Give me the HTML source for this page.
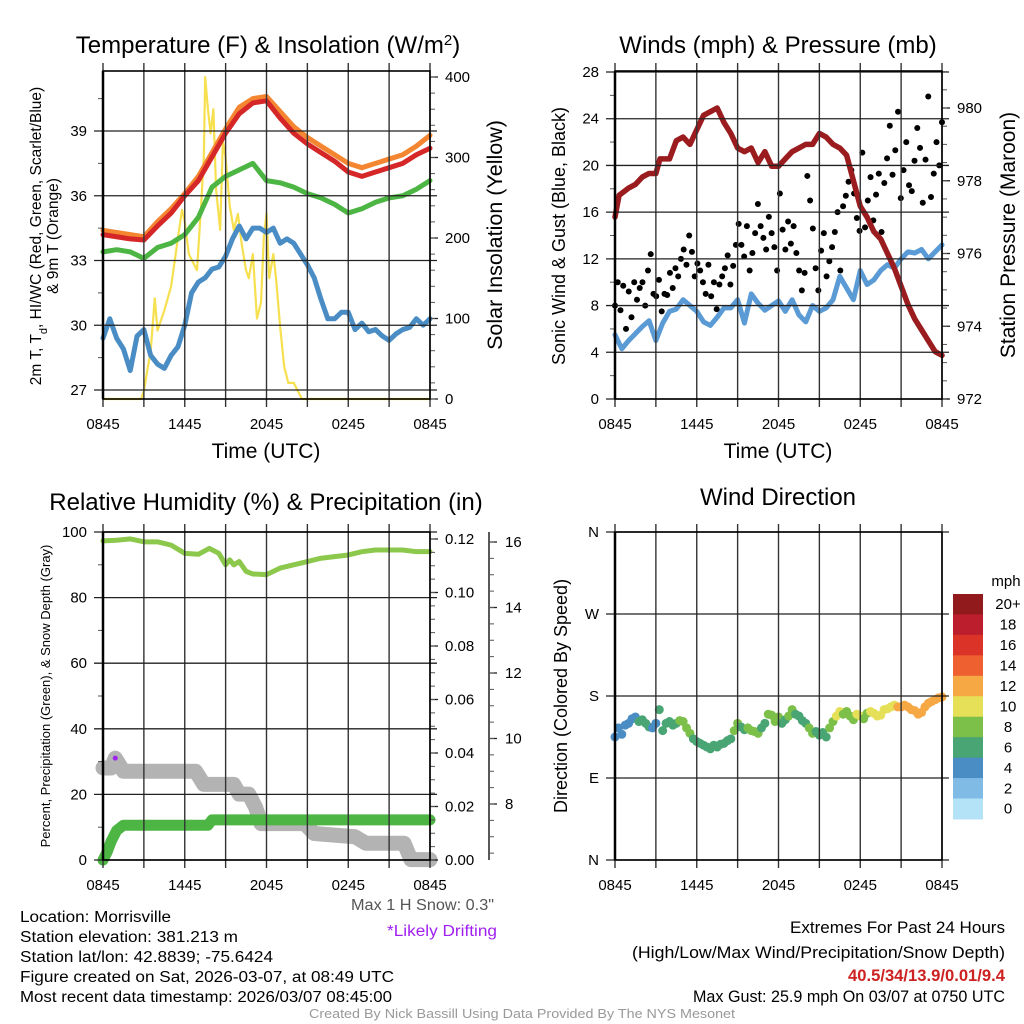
<!DOCTYPE html>
<html><head><meta charset="utf-8"><style>
body{margin:0;background:#fff}
svg{display:block;font-family:"Liberation Sans",sans-serif}
</style></head><body>
<svg id="s" width="1024" height="1024" viewBox="0 0 1024 1024" xmlns="http://www.w3.org/2000/svg">
<rect width="1024" height="1024" fill="#fff"/>
<text x="268" y="53" font-size="24" text-anchor="middle">Temperature (F) &amp; Insolation (W/m<tspan baseline-shift="super" font-size="15">2</tspan>)</text>
<text x="778" y="53" font-size="24" text-anchor="middle">Winds (mph) &amp; Pressure (mb)</text>
<text x="266" y="510" font-size="24" text-anchor="middle">Relative Humidity (%) &amp; Precipitation (in)</text>
<text x="778" y="505" font-size="24" text-anchor="middle">Wind Direction</text>
<text x="266" y="458" font-size="21" text-anchor="middle">Time (UTC)</text>
<text x="778" y="458" font-size="21" text-anchor="middle">Time (UTC)</text>
<text transform="translate(41,236) rotate(-90)" font-size="15.5" text-anchor="middle">2m T, T<tspan baseline-shift="sub" font-size="11">d</tspan>, HI/WC (Red, Green, Scarlet/Blue)</text>
<text transform="translate(58,236) rotate(-90)" font-size="15.5" text-anchor="middle">&amp; 9m T (Orange)</text>
<text transform="translate(502,235) rotate(-90)" font-size="21.5" text-anchor="middle">Solar Insolation (Yellow)</text>
<text transform="translate(565,236) rotate(-90)" font-size="18" text-anchor="middle">Sonic Wind &amp; Gust (Blue, Black)</text>
<text transform="translate(1015,235) rotate(-90)" font-size="21" text-anchor="middle">Station Pressure (Maroon)</text>
<text transform="translate(50,696) rotate(-90)" font-size="13" text-anchor="middle">Percent, Precipitation (Green), &amp; Snow Depth (Gray)</text>
<text transform="translate(567,696) rotate(-90)" font-size="18" text-anchor="middle">Direction (Colored By Speed)</text>
<g font-size="15.5">
<text x="20" y="922" textLength="151" lengthAdjust="spacingAndGlyphs">Location: Morrisville</text>
<text x="20" y="942" textLength="218" lengthAdjust="spacingAndGlyphs">Station elevation: 381.213 m</text>
<text x="20" y="962" textLength="253" lengthAdjust="spacingAndGlyphs">Station lat/lon: 42.8839; -75.6424</text>
<text x="20" y="982" textLength="374" lengthAdjust="spacingAndGlyphs">Figure created on Sat, 2026-03-07, at 08:49 UTC</text>
<text x="20" y="1002" textLength="372" lengthAdjust="spacingAndGlyphs">Most recent data timestamp: 2026/03/07 08:45:00</text>
</g>
<text x="351" y="910" font-size="15.5" fill="#555" textLength="143" lengthAdjust="spacingAndGlyphs">Max 1 H Snow: 0.3"</text>
<text x="387" y="936" font-size="15.5" fill="#a020f0" textLength="110" lengthAdjust="spacingAndGlyphs">*Likely Drifting</text>
<g font-size="16.5">
<text x="790" y="933" textLength="215" lengthAdjust="spacingAndGlyphs">Extremes For Past 24 Hours</text>
<text x="632" y="958" textLength="373" lengthAdjust="spacingAndGlyphs">(High/Low/Max Wind/Precipitation/Snow Depth)</text>
<text x="848" y="981" fill="#cc2222" font-weight="bold" textLength="157" lengthAdjust="spacingAndGlyphs">40.5/34/13.9/0.01/9.4</text>
<text x="693" y="1002" textLength="312" lengthAdjust="spacingAndGlyphs">Max Gust: 25.9 mph On 03/07 at 0750 UTC</text>
</g>
<text x="309" y="1018" font-size="13" fill="#999" textLength="426" lengthAdjust="spacingAndGlyphs">Created By Nick Bassill Using Data Provided By The NYS Mesonet</text>
</svg>
<script>
// ---- data (hours since 0845 UTC) ----
const timeLabels=["0845","1445","2045","0245","0845"];
const tempT=[0,1,2,3,4,5,6,7,8,9,10,11,12,13,14,15,16,17,18,19,20,21,22,23,24];
const redTemp=[34.2,34.1,34.0,33.95,34.6,35.2,36.0,36.7,37.8,38.9,39.8,40.3,40.4,39.6,38.9,38.4,38.0,37.6,37.1,36.9,37.1,37.3,37.5,37.9,38.2];
const orangeTemp=[34.4,34.3,34.2,34.1,34.8,35.4,36.1,36.9,38.0,39.1,40.1,40.5,40.6,39.9,39.2,38.7,38.3,37.9,37.5,37.3,37.5,37.7,37.9,38.3,38.8];
const greenTemp=[33.4,33.5,33.4,33.1,33.6,33.8,34.2,35.0,36.4,36.9,37.2,37.5,36.7,36.6,36.4,36.1,35.9,35.6,35.2,35.4,35.7,35.9,36.0,36.3,36.7];
const dewT=[0,0.5,1,1.5,2,2.5,3,3.5,4,4.5,5,5.5,6,6.5,7,7.5,8,8.5,9,9.5,10,10.5,11,11.5,12,12.5,13,13.5,14,14.5,15,15.5,16,16.5,17,17.5,18,18.5,19,19.5,20,20.5,21,21.5,22,22.5,23,23.5,24];
const dewPoint=[29.4,30.3,29.4,28.9,27.9,29.5,29.8,28.6,28.2,28.0,28.6,29.0,30.0,31.5,32.0,32.2,32.6,32.7,33.2,34.0,34.6,34.0,34.5,34.5,34.3,34.5,33.8,34.0,33.8,33.3,32.8,32.2,31.2,30.3,30.3,30.6,30.6,29.8,30.1,29.7,29.8,29.5,29.3,29.6,29.8,29.9,30.3,30.0,30.3];
const solarT=[0,2.8,3,3.5,3.8,4,4.5,5,5.5,5.8,6,6.3,6.6,6.9,7.2,7.4,7.5,7.7,7.9,8.1,8.3,8.6,8.8,9,9.3,9.6,9.9,10.2,10.5,10.7,11,11.3,11.6,11.8,12,12.2,12.5,12.7,13,13.3,13.6,14,14.3,14.6,24];
const solar=[0,0,10,60,125,85,110,140,200,235,220,180,170,160,240,300,400,360,330,360,260,210,320,300,240,210,230,190,160,150,180,100,120,200,230,150,180,150,90,40,20,20,10,0,0];
const presT=[0,0.3,1,1.5,2,2.5,3,3.3,4,4.5,5,5.5,6,6.5,7,7.5,8,8.5,9,9.5,10,10.5,11,11.5,12,12.5,13,13.5,14,14.5,15,15.5,16,16.5,17,17.5,18,18.5,19,19.5,20,20.5,21,21.5,22,22.5,23,23.5,24];
const pressure=[977.0,977.6,977.8,977.9,978.1,978.2,978.2,978.6,978.6,979.1,979.2,979.0,979.4,979.8,979.9,980.0,979.6,979.3,978.9,978.8,978.9,978.5,978.8,978.4,978.4,978.6,978.8,978.9,979.0,979.0,979.3,979.2,979.0,978.9,978.7,978.0,977.3,977.0,976.6,976.4,976.0,975.6,975.1,974.6,974.2,973.9,973.6,973.3,973.2];
const windT=[0,0.5,1,1.5,2,2.5,3,3.5,4,4.5,5,5.5,6,6.5,7,7.5,8,8.5,9,9.5,10,10.5,11,11.5,12,12.5,13,13.5,14,14.5,15,15.5,16,16.5,17,17.5,18,18.5,19,19.5,20,20.5,21,21.5,22,22.5,23,23.5,24];
const windSpeed=[5.5,4.3,5.0,5.6,6.2,6.7,5.0,6.5,7.5,7.7,8.5,8.0,7.5,6.6,6.3,7.0,7.8,7.8,8.5,6.5,9.0,8.2,7.6,8.0,8.4,7.5,8.5,7.2,6.6,8.0,7.5,7.8,8.5,10.5,9.5,8.5,11.0,9.8,10.2,11.0,11.5,11.2,12.0,12.6,12.5,12.8,12.0,12.6,13.2];
const gust=[8,10,7.6,9.7,6, 9.2,7,10,8.5,9.5, 10,8,11,12.4,9, 8.8,10.2,7.5,9,8.9, 10.8,9.5,11.2,10.5,12, 12.8,11.5,14,12.6,10.5, 11.6,11,10,9,11.5, 8.8,10,7.7,9.8,10.5, 11.2,12.3,9.8,11.4,13.2, 15,13.2,12.2,14.8,11, 12.5,14.2,16.7,14.8,13.8, 12.8,15.6,14.2,13,11, 17.6,14.5,12.8,15.2,13.3, 14.8,12.5,11,9.3,10.8, 19.1,17,14.6,11.2,9.3, 12.7,14.2,10.5,11.8,13, 14.3,16,11,16.5,17.4, 18.6,19.6,17.6,15.5,14.4, 21.1,14.7,17,19,15.3, 17.5,19.3,14.3,18.5,20.6, 23.4,19.2,21.3,24.6,17.2, 19.6,22,18.3,17.8,20.4, 23.2,21.5,16.8,20.5,25.9, 17.3,19.3,22,20,23.7];
const rhT=[0,1,2,3,4,5,6,7,7.8,8.5,9,9.3,9.6,10,10.5,11,12,13,14,15,16,17,18,19,20,21,22,23,24];
const rh=[97.3,97.5,97.9,97.0,97.0,96.0,93.5,93.2,95.0,93.5,90.0,91.5,90.0,91.0,88.0,87.2,87.0,89.0,90.0,91.0,92.0,92.5,93.0,94.0,94.5,94.5,94.5,94.0,94.0];
const precipT=[0,0.3,0.6,1,1.5,7.7,8,24];
const precip=[0,0.003,0.007,0.011,0.013,0.013,0.015,0.015];
const snowT=[0,0.6,0.9,1.5,6.8,7.4,9.6,10.0,10.7,11.2,11.6,14.8,15.5,18.5,19.3,22.1,22.6,24];
const snowDepth=[9.1,9.1,9.4,9.0,9.0,8.6,8.6,8.3,8.3,7.9,7.4,7.4,7.1,7.0,6.8,6.8,6.3,6.3];
const direction=[135,145,138,148,150,155,157,152,154,150,146,145,150,165,142,150,152,148,150,153,152,145,139,133,130,128,126,124,122,126,124,127,128,131,133,142,150,146,143,145,142,141,139,145,150,160,159,152,157,150,154,158,165,160,158,153,150,145,139,141,137,140,135,145,152,158,163,160,163,158,154,160,158,155,161,163,161,158,159,165,166,168,170,168,168,170,168,165,164,160,162,168,172,174,176,178,179];
const speedBins=["0","2","4","6","8","10","12","14","16","18","20+"];
const binColors=["#b4e2f7","#7fbbe4","#4a8dc5","#4aa574","#7cc04a","#e6df58","#f5a843","#ee6030","#dc3329","#bd1e2d","#911a1d"];

// ---- helpers ----
const NS="http://www.w3.org/2000/svg",S=document.getElementById('s');
function mk(tag,at,parent){const e=document.createElementNS(NS,tag);for(const k in at)e.setAttribute(k,at[k]);(parent||S).appendChild(e);return e;}
function lin(d0,d1,r0,r1){return v=>r0+(v-d0)/(d1-d0)*(r1-r0);}
function panel(name,x0,x1,y0,y1){
  const g=mk('g',{});
  
  
  const xs=lin(0,24,x0,x1);
  for(let h=0;h<=24;h+=3){
    const l=mk('line',{x1:xs(h),x2:xs(h),y1:y0-8,y2:y1+8,stroke:'#333','stroke-width':1.4},g);
    
    
  }
  timeLabels.forEach((lab,i)=>{
    const t=mk('text',{x:xs(i*6),y:y1+30,'font-size':15,'text-anchor':'middle'},g);t.textContent=lab;
    
    
  });
  return {g,xs};
}
function hgrid(g,x0,x1,ys,vals,labels,minor){
  vals.forEach((v,i)=>{
    const l=mk('line',{x1:x0-9,x2:x1+7,y1:ys(v),y2:ys(v),stroke:'#222','stroke-width':1.3},g);
    
    
    const t=mk('text',{x:x0-16,y:ys(v)+5,'font-size':15,'text-anchor':'end'},g);t.textContent=labels[i];
    
    
  });
  minor.forEach(v=>{mk('line',{x1:x0-5,x2:x0,y1:ys(v),y2:ys(v),stroke:'#555','stroke-width':1},g);});
}
function rightAxis(g,x,ys,vals,labels,minor,lx){
  vals.forEach((v,i)=>{
    mk('line',{x1:x,x2:x+8,y1:ys(v),y2:ys(v),stroke:'#222','stroke-width':1.3},g);
    const t=mk('text',{x:lx,y:ys(v)+5,'font-size':15},g);t.textContent=labels[i];
    
    
  });
  minor.forEach(v=>{mk('line',{x1:x,x2:x+5,y1:ys(v),y2:ys(v),stroke:'#555','stroke-width':1},g);});
}
function frame(g,x0,x1,y0,y1){mk('rect',{x:x0,y:y0,width:x1-x0,height:y1-y0,fill:'none',stroke:'#000','stroke-width':1.6},g);mk('line',{x1:x0,x2:x0,y1:y0,y2:y1,stroke:'#000','stroke-width':2.5},g);}
function line(xs,ys,T,V,color,w,name){
  const p=mk('polyline',{points:T.map((t,i)=>xs(t)+','+ys(V[i])).join(' '),fill:'none',stroke:color,'stroke-width':w,'stroke-linejoin':'round','stroke-linecap':'round'});
  
  
  return p;
}
function range(a,b,s){const r=[];for(let v=a;v<=b+1e-9;v+=s)r.push(+v.toFixed(4));return r;}

// ---- Panel 1: temperature ----
{const x0=103,x1=430,y0=71,y1=399;const P=panel('temperature',x0,x1,y0,y1);const xs=P.xs;
 const ys=lin(27,39,390,131);const yS=lin(0,400,399,77);
 hgrid(P.g,x0,x1,ys,[27,30,33,36,39],["27","30","33","36","39"],[28.5,31.5,34.5,37.5,40.5]);
 rightAxis(P.g,x1,yS,[0,100,200,300,400],["0","100","200","300","400"],range(0,400,20),445);
 line(xs,yS,solarT,solar,'#f7e04f',2.2,'solar-insolation-line');
 line(xs,ys,dewT,dewPoint,'#4a8dc5',5,'dewpoint-line');
 line(xs,ys,tempT,greenTemp,'#4cb543',5,'heat-index-line');
 line(xs,ys,tempT,orangeTemp,'#f58631',5,'temp-9m-line');
 line(xs,ys,tempT,redTemp,'#d62728',5,'temp-2m-line');
 frame(P.g,x0,x1,y0,y1);S.appendChild(P.g);}

// ---- Panel 2: winds & pressure ----
{const x0=615,x1=942,y0=71,y1=399;const P=panel('winds',x0,x1,y0,y1);const xs=P.xs;
 const ys=lin(0,28,399,72);const yP=lin(972,980,399,108);
 hgrid(P.g,x0,x1,ys,range(0,28,4),range(0,28,4).map(String),range(2,26,4));
 rightAxis(P.g,x1,yP,[972,974,976,978,980],["972","974","976","978","980"],range(972,981,0.5),957);
 line(xs,ys,windT,windSpeed,'#5b9bd5',5,'sonic-wind-line');
 const gg=mk('g',{});
 
 
 gust.forEach((v,i)=>{const c=mk('circle',{cx:xs(i*24/(gust.length-1)),cy:ys(v),r:3,fill:'#000'},gg);
   
   });
 line(xs,yP,presT,pressure,'#9b1c1f',5.5,'pressure-line');
 frame(P.g,x0,x1,y0,y1);S.appendChild(P.g);}

// ---- Panel 3: RH & precip ----
{const x0=103,x1=430,y0=532,y1=860;const P=panel('humidity',x0,x1,y0,y1);const xs=P.xs;
 const ys=lin(0,100,860,532);const yPr=lin(0,0.12,860,539);const ySn=lin(8,16,804,542);
 hgrid(P.g,x0,x1,ys,range(0,100,20),range(0,100,20).map(String),range(10,90,20));
 rightAxis(P.g,x1,yPr,range(0,0.12,0.02),["0.00","0.02","0.04","0.06","0.08","0.10","0.12"],range(0,0.12,0.005),445);
 mk('line',{x1:489,x2:489,y1:532,y2:860,stroke:'#222','stroke-width':1.5},P.g);
 rightAxis(P.g,489,ySn,[8,10,12,14,16],["8","10","12","14","16"],range(6.5,16,0.5),505);
 line(xs,ySn,snowT,snowDepth,'#b3b3b3',15,'snow-depth-line');
 line(xs,yPr,precipT,precip,'#4cb543',11,'precipitation-line');
 line(xs,ys,rhT,rh,'#8cc84b',5,'relative-humidity-line');
 const d=mk('circle',{cx:xs(0.9),cy:ySn(9.4),r:2.5,fill:'#a020f0'});
 
 
 frame(P.g,x0,x1,y0,y1);S.appendChild(P.g);}

// ---- Panel 4: wind direction ----
{const x0=615,x1=942,y0=532,y1=860;const P=panel('direction',x0,x1,y0,y1);const xs=P.xs;
 const ys=lin(0,360,860,532);
 hgrid(P.g,x0,x1,ys,[0,90,180,270,360],["N","E","S","W","N"],[]);
 const dg=mk('g',{});
 
 
 direction.forEach((dv,k)=>{const t=k*24/(direction.length-1);
   const sp=windSpeed[Math.min(windSpeed.length-1,Math.round(t*2))];
   const b=Math.min(10,Math.floor(sp/2));
   const c=mk('circle',{cx:xs(t),cy:ys(dv),r:4.5,fill:binColors[b]},dg);
   
   });
 frame(P.g,x0,x1,y0,y1);S.appendChild(P.g);
 const cb=mk('g',{});
 
 
 const top=594,h=20.45;
 const mt=mk('text',{x:1006,y:586,'font-size':15,'text-anchor':'middle'},cb);mt.textContent='mph';
 for(let i=0;i<11;i++){const j=10-i;
   const r=mk('rect',{x:953,y:top+i*h,width:30,height:h+0.5,fill:binColors[j]},cb);
   
   
   const t=mk('text',{x:1008,y:top+i*h+h/2+5,'font-size':15,'text-anchor':'middle'},cb);t.textContent=speedBins[j];}
}
</script>
</body></html>
